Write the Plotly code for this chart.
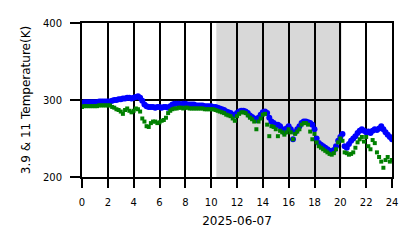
import plotly.graph_objects as go

# 10-minute samples from 00:00 to 24:00 (hours)
hours = [i / 6 for i in range(145)]

# 3.9 um brightness temperature (K)
t39 = [
    296, 297, 297, 297, 297, 297,
    297, 297, 298, 298, 298, 298,
    298, 298, 299, 300, 300, 301,
    301, 302, 302, 303, 303, 302,
    303, 304, 305, 303, 299, 294,
    292, 291, 291, 291, 290, 291,
    291, 290, 291, 291, 290, 292,
    294, 295, 295, 295, 294, 295,
    295, 294, 294, 294, 294, 293,
    293, 293, 293, 292, 292, 292,
    292, 291, 291, 290, 289, 288,
    287, 285, 284, 283, 281, 280,
    283, 285, 286, 286, 285, 283,
    280, 278, 276, 274, 277, 281,
    284, 285, 283, 277, 272, 270,
    268, 268, 266, 262, 258, 263,
    266, 262, 249, 258, 262, 266,
    270, 272, 272, 271, 270, 268,
    262, 250, 244, 242, 240, 238,
    236, 234, 233, 235, 240, 247,
    252, 256, 240, 238, 243, 247,
    250, 253, 257, 260, 262, 260,
    258, 259, 257, 260, 262, 261,
    263, 266, 262, 258, 255, 252,
    249,
]

# 11 um brightness temperature (K)
t11 = [
    291, 292, 292, 292, 292, 292,
    292, 292, 293, 293, 293, 293,
    293, 293, 291, 290, 288, 287,
    285, 282, 287, 289, 286, 284,
    286, 289, 288, 285, 276, 272,
    266, 265, 270, 272, 272, 270,
    271, 273, 274, 277, 283, 286,
    288, 289, 289, 290, 290, 289,
    290, 290, 289, 289, 289, 289,
    289, 289, 289, 288, 288, 288,
    288, 288, 287, 286, 285, 284,
    283, 281, 280, 279, 276, 273,
    279, 282, 284, 284, 283, 280,
    277, 275, 272, 262, 272, 276,
    281, 282, 268, 253, 266, 265,
    262, 253, 260, 258, 255, 258,
    262, 258, 249, 256, 259, 262,
    268, 270, 270, 268, 259, 249,
    256, 245, 240, 238, 236, 234,
    232, 230, 229, 231, 236, 245,
    250, 247, 232, 231, 229, 230,
    232, 238, 245, 249, 252, 246,
    252, 240, 236, 248, 244, 232,
    226, 220, 212, 222, 226, 220,
    222,
]

daylight = [10.4, 20.1]
x_ticks = list(range(0, 25, 2))
y_ticks = [200, 300, 400]
date_label = "2025-06-07"
y_title = "3.9 & 11 Temperature(K)"

fig = go.Figure()
fig.add_vrect(x0=daylight[0], x1=daylight[1], fillcolor="rgb(216,216,216)",
              line_width=0, layer="below")
fig.add_trace(go.Scatter(x=hours, y=t39, mode="markers",
                         marker=dict(symbol="circle", size=6, color="#0000ff",
                                     line=dict(width=0)), showlegend=False))
fig.add_trace(go.Scatter(x=hours, y=t11, mode="markers",
                         marker=dict(symbol="square", size=4, color="#008000",
                                     line=dict(width=0)), showlegend=False))

font = dict(family="DejaVu Sans", size=10, color="black")
fig.update_layout(
    width=418, height=248,
    margin=dict(l=82, r=26, t=23, b=71),
    paper_bgcolor="white", plot_bgcolor="white",
    font=font,
    xaxis=dict(range=[0, 24], tickvals=x_ticks, ticktext=[str(v) for v in x_ticks],
               showgrid=True, gridcolor="black", gridwidth=2,
               ticks="outside", ticklen=9, tickwidth=2, tickcolor="black",
               zeroline=False, showline=True, linecolor="black", linewidth=2,
               mirror=True, ticklabelstandoff=6,
               title=dict(text=date_label, standoff=10), tickfont=font),
    yaxis=dict(range=[200, 400], tickvals=y_ticks,
               showgrid=True, gridcolor="black", gridwidth=2,
               ticks="outside", ticklen=10, tickwidth=2, tickcolor="black",
               zeroline=False, showline=True, linecolor="black", linewidth=2,
               mirror=True, ticklabelstandoff=6,
               title=dict(text=y_title, standoff=10), tickfont=font),
)

fig.write_html("out.html")
